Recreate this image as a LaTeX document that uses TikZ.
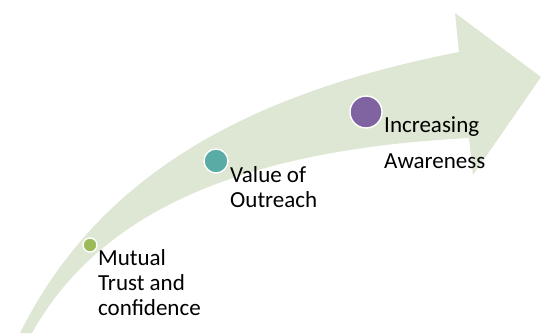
\documentclass[tikz,border=0pt]{standalone}
\usepackage{fontspec}
\setmainfont{Carlito}
\definecolor{band}{HTML}{DDE7D3}
\definecolor{cgreen}{HTML}{9BBB59}
\definecolor{cteal}{HTML}{58ACA5}
\definecolor{cpurple}{HTML}{8064A2}
\tikzset{
  dot/.style={circle, draw=white, line width=1.4pt, inner sep=0pt},
  lbl/.style={anchor=base west, align=left, inner sep=0pt, font=\fontsize{23}{25}\selectfont}
}
\begin{document}
\begin{tikzpicture}[x=1pt,y=1pt]
\useasboundingbox (0,0) rectangle (541,333);
\coordinate (tailA) at (20,0);
\coordinate (tailB) at (32,0);
\coordinate (uj) at (459,281);
\coordinate (tb) at (455,320);
\coordinate (tip) at (541,256);
\coordinate (lb) at (473,158);
\coordinate (lj) at (469,195);
\fill[band] (tailA) .. controls (100,160) and (250,240) .. (uj)
  -- (tb) -- (tip) -- (lb) -- (lj)
  .. controls (280,185) and (110,140) .. (tailB) -- cycle;
\node[dot, fill=cgreen, minimum size=14pt] (c1) at (90,88) {};
\node[dot, fill=cteal, minimum size=24pt] (c2) at (216,172) {};
\node[dot, fill=cpurple, minimum size=32pt] (c3) at (366,221) {};
\node[lbl] (t1) at (98,18) {Mutual\\Trust and\\confidence};
\node[lbl] (t2) at (230,126) {Value of\\Outreach};
\node[lbl, font=\fontsize{23}{36}\selectfont] (t3) at (384,165) {Increasing\\Awareness};
\end{tikzpicture}
\end{document}
